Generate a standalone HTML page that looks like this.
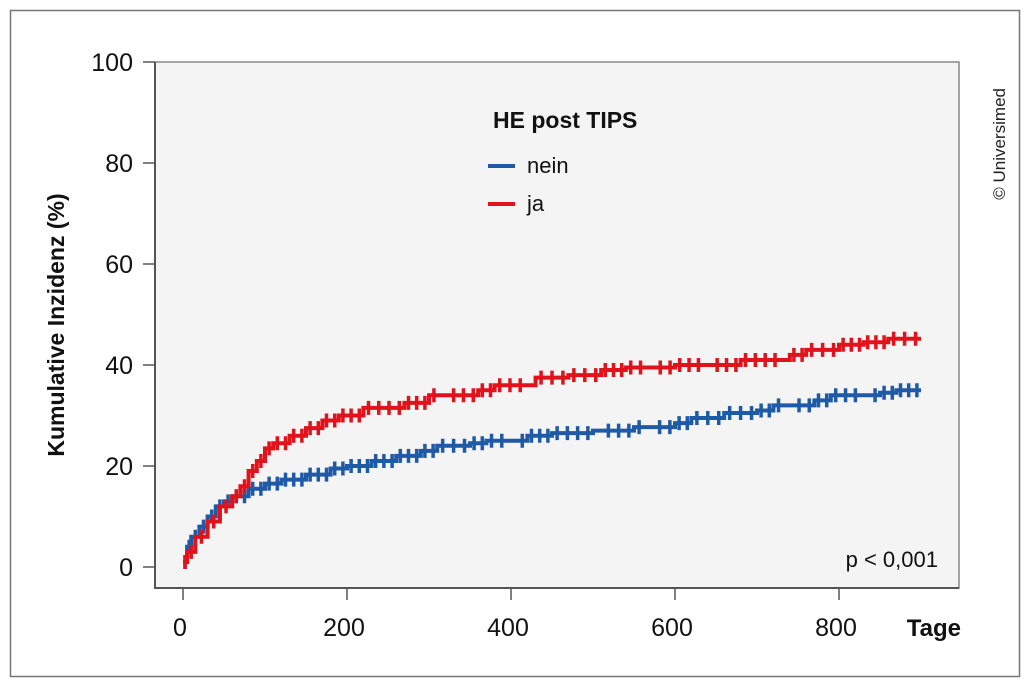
<!DOCTYPE html>
<html><head><meta charset="utf-8"><style>
html,body{margin:0;padding:0;background:#fff;}
svg{display:block;font-family:"Liberation Sans",sans-serif;}
</style></head><body>
<svg id="s" width="1024" height="682" viewBox="0 0 1024 682">
<rect x="10.5" y="10.5" width="1009" height="666" fill="#fff" stroke="#777" stroke-width="1.5"/>
<rect x="155" y="62" width="804" height="526" fill="#f4f4f4" stroke="#888" stroke-width="1.5"/>
<line x1="155" y1="62" x2="155" y2="589" stroke="#555" stroke-width="2"/>
<line x1="154" y1="588" x2="959" y2="588" stroke="#555" stroke-width="2"/>
<g id="ax" stroke="#555" stroke-width="1.5"></g>
<g font-size="25" fill="#111" text-anchor="end" id="yl"></g>
<g font-size="25" fill="#111" text-anchor="middle" id="xl"></g>
<text x="961" y="636" font-size="24" font-weight="bold" text-anchor="end" fill="#111">Tage</text>
<text transform="translate(64,325) rotate(-90)" font-size="23" font-weight="bold" text-anchor="middle" fill="#111">Kumulative Inzidenz (%)</text>
<text transform="translate(1005,88) rotate(-90)" font-size="17" text-anchor="end" fill="#222">© Universimed</text>
<text x="493" y="128" font-size="23" font-weight="bold" fill="#111">HE post TIPS</text>
<line x1="488" y1="166" x2="515" y2="166" stroke="#1f5aa6" stroke-width="4"/>
<text x="527" y="173" font-size="22" fill="#111">nein</text>
<line x1="488" y1="204" x2="515" y2="204" stroke="#e0121b" stroke-width="4"/>
<text x="527" y="211" font-size="22" fill="#111">ja</text>
<text x="938" y="567" font-size="22" text-anchor="end" fill="#111">p &lt; 0,001</text>
<g id="curves"></g>
</svg>
<script>
var NS="http://www.w3.org/2000/svg";
function X(d){return 183+d*0.82;}
function Y(v){return 567-v*5.05;}
function el(t,a,p,txt){var e=document.createElementNS(NS,t);for(var k in a)e.setAttribute(k,a[k]);if(txt)e.textContent=txt;p.appendChild(e);return e;}
var ax=document.getElementById('ax'),yl=document.getElementById('yl'),xl=document.getElementById('xl');
for(var v=0;v<=100;v+=20){el('line',{x1:143,y1:Y(v),x2:155,y2:Y(v)},ax);el('text',{x:133,y:Y(v)+9},yl,String(v));}
for(var d=0;d<=800;d+=200){el('line',{x1:X(d),y1:588,x2:X(d),y2:600},ax);el('text',{x:X(d)-3,y:636},xl,String(d));}
var blue=[[0,1],[5,4],[10,6],[20,8],[30,10],[40,12],[50,13],[60,14],[80,15.5],[100,16.5],[120,17.3],[150,18.3],[180,19.5],[200,20],[230,21],[260,22],[290,23],[310,24],[350,24.5],[370,25],[420,26],[450,26.5],[500,27],[550,27.7],[600,28.5],[620,29.5],[660,30.5],[700,31],[720,32],[770,33],[790,34],[850,34.5],[870,35],[900,35]];
var red=[[0,1],[5,3],[15,6],[30,9],[45,12],[60,14],[70,16],[80,19],[90,21],[100,23.5],[110,24.5],[130,26],[150,27.5],[170,29],[190,30],[220,31.5],[270,32.5],[300,34],[360,35],[380,36],[430,37.5],[470,38],[510,39],[540,39.5],[600,40],[680,41],[740,42],[760,43],[800,44],[830,44.5],[860,45.2],[900,45.2]];
var g=document.getElementById('curves');
function draw(data,col,seed){
 var pts=[],prev=null;
 data.forEach(function(p){if(prev)pts.push(X(p[0])+','+Y(prev[1]));pts.push(X(p[0])+','+Y(p[1]));prev=p;});
 el('polyline',{points:pts.join(' '),fill:'none',stroke:col,'stroke-width':4},g);
 var path='';
 for(var i=0;i<data.length-1;i++){
  var a=data[i],b=data[i+1],n=Math.max(1,Math.round((b[0]-a[0])/12));
  for(var k=0;k<n;k++){
   if(((i*7+k*3+seed)%5)==0 && b[0]-a[0]>40) continue;
   var x=X(a[0]+(b[0]-a[0])*(k+0.5)/n),y=Y(a[1]);
   path+='M'+x+' '+(y-7)+'V'+(y+7);
  }
 }
 el('path',{d:path,stroke:col,'stroke-width':3.5,fill:'none'},g);
}
draw(blue,'#1f5aa6',1);
draw(red,'#e0121b',3);
</script>
</body></html>
